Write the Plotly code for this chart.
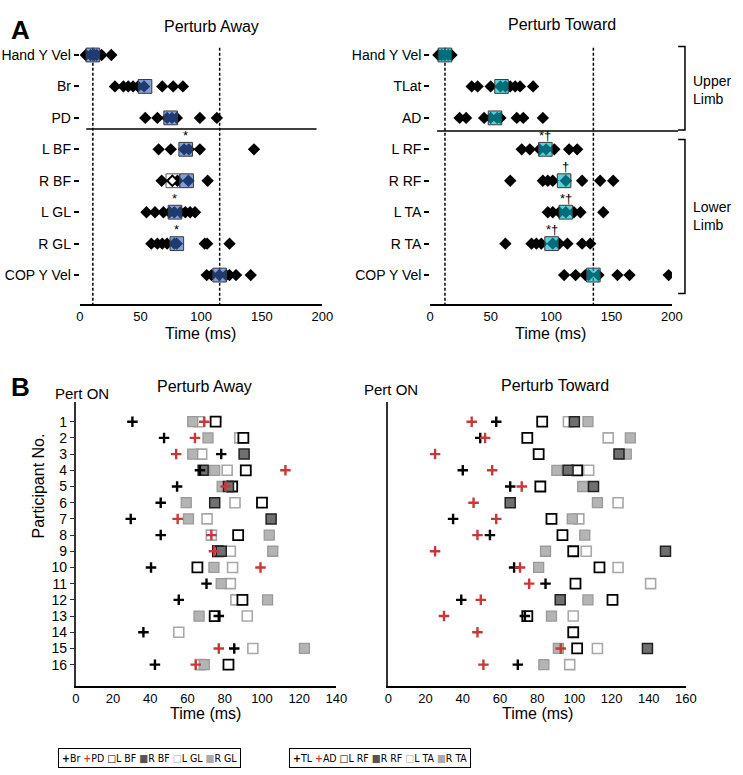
import plotly.graph_objects as go

# ---------------- DATA ----------------
# Panel A, Perturb Away
away_cats = ["Hand Y Vel", "Br", "PD", "L BF", "R BF", "L GL", "R GL", "COP Y Vel"]
away_pts = [
    [5, 9, 12, 14, 18, 26],
    [29, 36, 40, 44, 48, 53, 68, 77, 85],
    [54, 64, 72, 76, 80, 99, 113],
    [65, 75, 86, 90, 99, 143.6],
    [67.5, 80.5, 89.5, 105.4],
    [55, 62, 69, 74, 78, 83, 87, 91, 95],
    [59, 64, 68, 72, 78, 80, 103, 105, 123.4],
    [104.6, 108.6, 115, 120.7, 123.4, 128.8, 140.9],
]
away_means = [10.8, 53.8, 74.9, 87.3, 88.1, 78.5, 80.0, 115.3]
away_sig = ["", "", "", "*", "", "*", "*", ""]
away_alt_row = 4          # R BF secondary (hollow) estimate
away_alt_mean = 76.7
away_alt_pt = 76.3

# Panel A, Perturb Toward
tow_cats = ["Hand Y Vel", "TLat", "AD", "L RF", "R RF", "L TA", "R TA", "COP Y Vel"]
tow_pts = [
    [6.8, 9.5, 12, 14.9, 17.6],
    [34.3, 39.2, 50, 58.1, 62.2, 66.2, 70.3, 74.3, 85.1],
    [24.3, 29.7, 44.6, 50, 55.4, 58.1, 71.6, 77, 93.2],
    [75.7, 82.4, 90.5, 95.9, 102.7, 114.9, 121.6],
    [66.2, 93.2, 97.3, 101.4, 112.2, 125.7, 140.6, 151.4],
    [97.3, 101.4, 106.8, 112.2, 118.9, 124.3, 143.2],
    [62.2, 83.8, 87.8, 91.9, 101.4, 106.8, 113.5, 125.7, 132.4],
    [110.8, 120.3, 128.4, 131.1, 139.2, 154.9, 164.9, 197.3],
]
tow_means = [12.2, 59.0, 53.6, 95.3, 110.8, 112.2, 100.4, 135.0]
tow_sig = ["", "", "", "*†", "†", "*†", "*†", ""]

# Panel B, participants 1..16
participants = list(range(1, 17))
N = None
b_away = {
    "L GL": [66, 88.1, 67.6, 81.3, N, 85.5, 70.5, 72.8, 83, 84.2, 83, 86, 92.1, 55.3, 95.1, 67],
    "R GL": [62.8, 71, 62.8, 74.6, 78.6, 59.3, 60.5, 103.9, 105.8, 74.2, 78.1, 103, 66.2, N, 122.8, 69],
    "L BF": [75.1, 90, N, 91.3, 84, 100, 142.6, 87.2, 76.3, 65.3, N, 89.5, 74.6, N, N, 82],
    "R BF": [N, N, 90.4, 68.4, 82, 74.6, 104.9, N, 78.1, N, N, N, N, N, N, N],
    "Br":   [30.4, 47.4, 78.1, 66.7, 54.4, 45.6, 29.5, 45.6, N, 40.4, 70.2, 55.3, 76.8, 36.3, 85.1, 42.5],
    "PD":   [69, 64, 53.9, 112.6, 80.5, N, 54.7, 72.8, 74.2, 99.2, N, N, N, N, 76.8, 64.4],
}
b_tow = {
    "L TA": [96.8, 118.2, N, 107.7, N, 123.5, 102.4, N, 106.4, 123.5, 141, N, 99.4, N, 112.4, 97.5],
    "R TA": [107.3, 130.1, 127.9, 90.6, 104.5, 112.4, 98.9, 105.6, 84.5, 80.8, N, 107.3, 87.7, N, 91.4, 83.6],
    "L RF": [82.7, 74.7, 80.8, 101.5, 81.7, N, 87.7, 93.6, 99.4, 113.5, 100.6, 120.5, 74.7, 99.4, 101.5, N],
    "R RF": [100, N, 124, 96.6, 110.3, 65.5, N, N, 149, N, N, 92.4, N, N, 139.3, N],
    "TL":   [58, 49.4, N, 40, 65.5, N, 34.8, 54.6, N, 67.6, 84.5, 39.2, 73.4, N, N, 69.6],
    "AD":   [44.8, 52, 25.1, 55.8, 71.7, 45.8, 58, 47.9, 25.1, 70.8, 75.7, 49.7, 29.9, 47.9, 92.7, 51.1],
}
a_ticks = [0, 50, 100, 150, 200]
b_away_ticks = [0, 20, 40, 60, 80, 100, 120, 140]
b_tow_ticks = [0, 20, 40, 60, 80, 100, 120, 140, 160]

# ---------------- STYLE / LAYOUT ----------------
W, H = 743, 775
FONT = "Liberation Sans, Arial, sans-serif"
def fx(p): return p / W
def fy(p): return 1 - p / H

BOX_HW, BOX_HH = 5.6, 0.22
AWAY_FILL = "rgba(50,97,187,0.6)"
TOW_FILL = "rgba(0,177,194,0.62)"
RED = "#c8383a"

fig = go.Figure()

def diamonds(pts, xa, ya):
    xs, ys = [], []
    for i, row in enumerate(pts):
        xs += row
        ys += [i] * len(row)
    fig.add_trace(go.Scatter(x=xs, y=ys, xaxis=xa, yaxis=ya, mode="markers",
                             marker=dict(symbol="diamond", size=9.5, color="black",
                                         line=dict(width=0)),
                             showlegend=False, hoverinfo="x"))

diamonds(away_pts, "x", "y")
diamonds(tow_pts, "x2", "y2")
fig.add_trace(go.Scatter(x=[away_alt_pt], y=[away_alt_row], xaxis="x", yaxis="y", mode="markers",
                         marker=dict(symbol="diamond", size=8, color="white",
                                     line=dict(width=2, color="black")),
                         showlegend=False))

shapes = []
def boxes(means, fill, xr, yr):
    for i, m in enumerate(means):
        shapes.append(dict(type="rect", xref=xr, yref=yr, x0=m - BOX_HW, x1=m + BOX_HW,
                           y0=i - BOX_HH, y1=i + BOX_HH, fillcolor=fill,
                           line=dict(color="#3a3a3a", width=1), layer="above"))
    for xv in (means[0], means[-1]):
        shapes.append(dict(type="line", xref=xr, yref=yr, x0=xv, x1=xv, y0=-0.23, y1=7.92,
                           line=dict(color="black", width=1.5, dash="3px,2px"), layer="below"))

boxes(away_means, AWAY_FILL, "x", "y")
boxes(tow_means, TOW_FILL, "x2", "y2")
shapes.append(dict(type="rect", xref="x", yref="y", x0=away_alt_mean - BOX_HW, x1=away_alt_mean + BOX_HW,
                   y0=away_alt_row - BOX_HH, y1=away_alt_row + BOX_HH, fillcolor="rgba(255,255,255,0.8)",
                   line=dict(color="#555", width=1), layer="below"))

# separators and brackets
shapes.append(dict(type="line", xref="paper", yref="paper", x0=fx(84), x1=fx(319), y0=fy(129), y1=fy(129),
                   line=dict(color="black", width=1.3)))
shapes.append(dict(type="line", xref="paper", yref="paper", x0=fx(442), x1=fx(688), y0=fy(131), y1=fy(131),
                   line=dict(color="black", width=1.3)))
for (t, b) in [(46.5, 130), (139.5, 293.5)]:
    shapes.append(dict(type="path", xref="paper", yref="paper",
                       path=f"M {fx(688)} {fy(t)} L {fx(695)} {fy(t)} L {fx(695)} {fy(b)} L {fx(688)} {fy(b)}",
                       line=dict(color="black", width=1.5)))

# Panel B markers
sq_styles = [
    dict(color="white", line=dict(color="black", width=1.8)),      # L BF / L RF
    dict(color="#707070", line=dict(color="#222", width=1.5)),     # R BF / R RF
    dict(color="white", line=dict(color="#a8a8a8", width=1.6)),    # L GL / L TA
    dict(color="#b4b4b4", line=dict(color="#9a9a9a", width=1.3)),  # R GL / R TA
]

def b_panel(data, keys_sq, keys_plus, xa, ya):
    for idx in [2, 3, 0, 1]:
        k = keys_sq[idx]
        fig.add_trace(go.Scatter(x=data[k], y=participants, xaxis=xa, yaxis=ya, mode="markers",
                                 marker=dict(symbol="square", size=10, **sq_styles[idx]), cliponaxis=False,
                                 showlegend=False, name=k))
    for k, c in zip(keys_plus, ["black", RED]):
        fig.add_trace(go.Scatter(x=data[k], y=participants, xaxis=xa, yaxis=ya, mode="markers",
                                 marker=dict(symbol="cross-thin", size=7.5, line=dict(color=c, width=2.4)),
                                 cliponaxis=False, showlegend=False, name=k))

b_panel(b_away, ["L BF", "R BF", "L GL", "R GL"], ["Br", "PD"], "x3", "y3")
b_panel(b_tow, ["L RF", "R RF", "L TA", "R TA"], ["TL", "AD"], "x4", "y4")

# ---------------- AXES ----------------
ax_common = dict(showgrid=False, zeroline=False, tickfont=dict(size=13, color="black"))
A_Y = [fy(304), fy(40)]
B_Y = [fy(685.7), fy(401.7)]
fig.update_layout(
    xaxis=dict(domain=[fx(77.3), fx(325)], range=[0, 200], anchor="y", tickvals=a_ticks,
               showline=True, linecolor="black", linewidth=1.5, ticks="", **ax_common),
    yaxis=dict(domain=A_Y, range=[7.92, -0.477], anchor="x", tickmode="array",
               tickvals=list(range(8)), ticktext=away_cats, ticks="outside", ticklen=5,
               tickwidth=1.5, tickcolor="black", showline=False, showgrid=False, zeroline=False,
               tickfont=dict(size=14, color="black")),
    xaxis2=dict(domain=[fx(435), fx(681.7)], range=[0, 200], anchor="y2", tickvals=a_ticks,
                showline=True, linecolor="black", linewidth=1.5, ticks="", **ax_common),
    yaxis2=dict(domain=A_Y, range=[7.92, -0.477], anchor="x2", tickmode="array",
                tickvals=list(range(8)), ticktext=tow_cats, ticks="outside", ticklen=5,
                tickwidth=1.5, tickcolor="black", showline=False, showgrid=False, zeroline=False,
                tickfont=dict(size=14, color="black")),
    xaxis3=dict(domain=[fx(73.3), fx(339.3)], range=[0, 140], anchor="y3", tickvals=b_away_ticks,
                showline=True, linecolor="black", linewidth=2, ticks="", **ax_common),
    yaxis3=dict(domain=B_Y, range=[17.3, -0.235], anchor="x3", tickmode="array",
                tickvals=participants, ticks="outside", ticklen=4, tickwidth=1.2, tickcolor="#333",
                showline=True, linecolor="#333", linewidth=2, showgrid=False, zeroline=False,
                tickfont=dict(size=14, color="black")),
    xaxis4=dict(domain=[fx(392.3), fx(696)], range=[0, 160], anchor="y4", tickvals=b_tow_ticks,
                showline=True, linecolor="black", linewidth=2, ticks="", **ax_common),
    yaxis4=dict(domain=B_Y, range=[17.3, -0.235], anchor="x4", showticklabels=False,
                ticks="", showline=True, linecolor="#333", linewidth=2, showgrid=False, zeroline=False),
)

# ---------------- ANNOTATIONS ----------------
ann = []
def txt(x, y, s, size=14, bold=False, **kw):
    ann.append(dict(xref="paper", yref="paper", x=fx(x), y=fy(y), text=f"<b>{s}</b>" if bold else s,
                    showarrow=False, font=dict(size=size, color="black", family=FONT),
                    xanchor=kw.pop("xanchor", "center"), yanchor="middle", **kw))

txt(17, 30, "A", 26, True)
txt(17, 387, "B", 26, True)
txt(212, 26, "Perturb Away", 16)
txt(570, 25, "Perturb Toward", 16)
txt(205, 387, "Perturb Away", 16)
txt(562, 385, "Perturb Toward", 16)
txt(201, 333, "Time (ms)", 16)
txt(558, 333, "Time (ms)", 16)
txt(206, 713, "Time (ms)", 16)
txt(544, 713, "Time (ms)", 16)
txt(80, 393, "Pert ON", 15)
txt(395, 389, "Pert ON", 15)
txt(701, 90, "Upper<br>Limb", 14, xanchor="left", align="left")
txt(701, 216, "Lower<br>Limb", 14, xanchor="left", align="left")
ann.append(dict(xref="paper", yref="paper", x=fx(25), y=fy(540), text="Participant No.", textangle=-90,
                showarrow=False, font=dict(size=16, color="black", family=FONT)))

for sig, means, xr, yr in [(away_sig, away_means, "x", "y"), (tow_sig, tow_means, "x2", "y2")]:
    for i, s in enumerate(sig):
        if s:
            ann.append(dict(xref=xr, yref=yr, x=means[i] + (1.5 if s == "†" else 0), y=i - 0.45,
                            text=s, showarrow=False, font=dict(size=13, color="black", family=FONT)))

LEG_FONT = "DejaVu Sans Condensed, Liberation Sans Narrow, Liberation Sans, sans-serif"
leg_l = ("<b>+</b>Br <span style='color:%s'><b>+</b></span>PD □L BF <span style='color:#555'>■</span>R BF "
         "<span style='color:#aaa'>□</span>L GL <span style='color:#aaa'>■</span>R GL") % RED
leg_r = ("<b>+</b>TL <span style='color:%s'><b>+</b></span>AD □L RF <span style='color:#555'>■</span>R RF "
         "<span style='color:#aaa'>□</span>L TA <span style='color:#aaa'>■</span>R TA") % RED
for cx, s in [(148.5, leg_l), (383.5, leg_r)]:
    ann.append(dict(xref="paper", yref="paper", x=fx(cx), y=fy(757.5), text=s, showarrow=False,
                    font=dict(size=10.5, color="black", family=LEG_FONT), bordercolor="black",
                    borderwidth=1, borderpad=3, bgcolor="white", xanchor="center", yanchor="middle"))

fig.update_layout(width=W, height=H, margin=dict(l=0, r=0, t=0, b=0), paper_bgcolor="white",
                  plot_bgcolor="white", font=dict(family=FONT, color="black"),
                  shapes=shapes, annotations=ann, showlegend=False)

fig.write_html("out.html", config={"displayModeBar": False},
               post_script="document.body.style.margin='0';document.body.style.padding='0';")
